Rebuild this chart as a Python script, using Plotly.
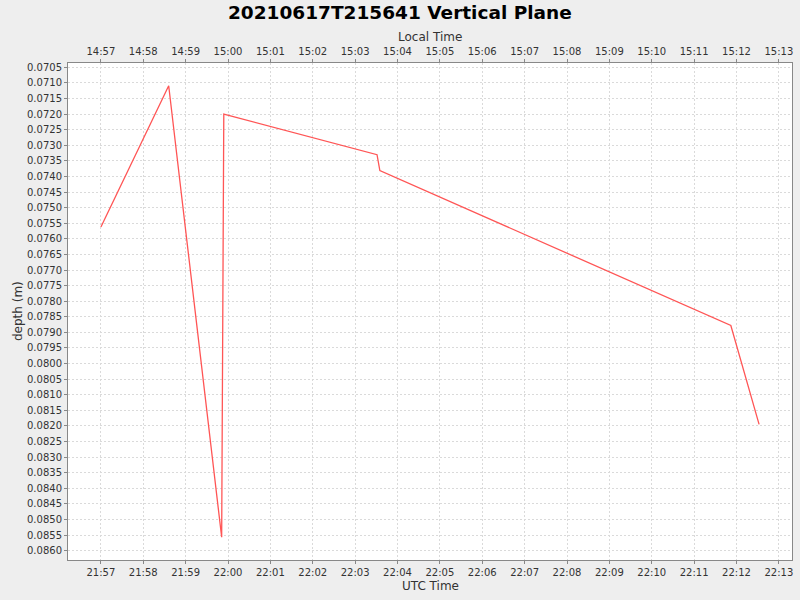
import plotly.graph_objects as go
import pandas as pd

# UTC timestamps of the samples
utc_times = [
    "2021-06-17 21:57:00",
    "2021-06-17 21:58:36",
    "2021-06-17 21:59:51",
    "2021-06-17 21:59:54",
    "2021-06-17 22:03:31",
    "2021-06-17 22:03:33",
    "2021-06-17 22:03:35",
    "2021-06-17 22:11:52",
    "2021-06-17 22:12:32",
]
depth_m = [0.07562, 0.07109, 0.08557, 0.07200, 0.07330, 0.07361, 0.07381, 0.07878, 0.08195]

utc_range = ["2021-06-17 21:56:13.4", "2021-06-17 22:13:18.6"]
depth_range = [0.08630, 0.07036]
local_offset_hours = -7

title_text = "20210617T215641 Vertical Plane"
utc_label = "UTC Time"
local_label = "Local Time"
depth_label = "depth (m)"

utc = pd.to_datetime(utc_times)
local = utc + pd.Timedelta(hours=local_offset_hours)
local_range = [str(pd.Timestamp(t) + pd.Timedelta(hours=local_offset_hours)) for t in utc_range]

FONT = "DejaVu Sans"
TXT = "#333333"
W, H = 800, 600
ML, MR, MT, MB = 68, 8, 63, 40
PH = H - MT - MB
PW = W - ML - MR


def py(p):
    return (H - MB - p) / PH


def px(p):
    return (p - ML) / PW


grid = dict(showgrid=True, gridcolor="#dadada", griddash="2px,2px", gridwidth=1)
tick = dict(ticks="outside", ticklen=3, tickcolor="#888888")

fig = go.Figure()
fig.add_trace(go.Scatter(x=utc, y=depth_m, mode="lines",
                         line=dict(color="#FF5555", width=1.3),
                         xaxis="x", yaxis="y", showlegend=False))
fig.add_trace(go.Scatter(x=local, y=depth_m, mode="lines",
                         line=dict(color="rgba(0,0,0,0)", width=0),
                         xaxis="x2", yaxis="y", showlegend=False, hoverinfo="skip"))

fig.update_layout(
    width=W, height=H,
    paper_bgcolor="#EEEEEE", plot_bgcolor="white",
    margin=dict(l=ML, r=MR, t=MT, b=MB, autoexpand=False),
    font=dict(family=FONT, size=11, color=TXT),
    xaxis=dict(type="date", range=utc_range, tickformat="%H:%M", dtick=60000,
               showline=True, linecolor="#888888", mirror=True, automargin=False,
               tickfont=dict(size=10, color=TXT), **tick, **grid),
    xaxis2=dict(type="date", range=local_range, tickformat="%H:%M", dtick=60000,
                overlaying="x", side="top", anchor="y", automargin=False,
                showgrid=False, tickfont=dict(size=10, color=TXT), **tick),
    yaxis=dict(range=depth_range, dtick=0.0005, tick0=0.07, tickformat=".4f",
               showline=True, linecolor="#888888", mirror=True, automargin=False,
               tickfont=dict(size=10, color=TXT), **tick, **grid),
    annotations=[
        dict(text="<b>" + title_text + "</b>", xref="paper", yref="paper",
             x=px(400), y=py(12), xanchor="center", yanchor="middle", showarrow=False,
             font=dict(family=FONT, size=18.5, color="black")),
        dict(text=local_label, xref="paper", yref="paper",
             x=px(430), y=py(37), xanchor="center", yanchor="middle", showarrow=False,
             font=dict(family=FONT, size=12, color=TXT)),
        dict(text=utc_label, xref="paper", yref="paper",
             x=px(430), y=py(586), xanchor="center", yanchor="middle", showarrow=False,
             font=dict(family=FONT, size=12, color=TXT)),
        dict(text=depth_label, xref="paper", yref="paper", textangle=-90,
             x=px(18), y=py(311), xanchor="center", yanchor="middle", showarrow=False,
             font=dict(family=FONT, size=12, color=TXT)),
    ],
)

fig.write_html("out.html", config={"displayModeBar": False},
               post_script="document.body.style.margin='0';document.body.style.padding='0';")
